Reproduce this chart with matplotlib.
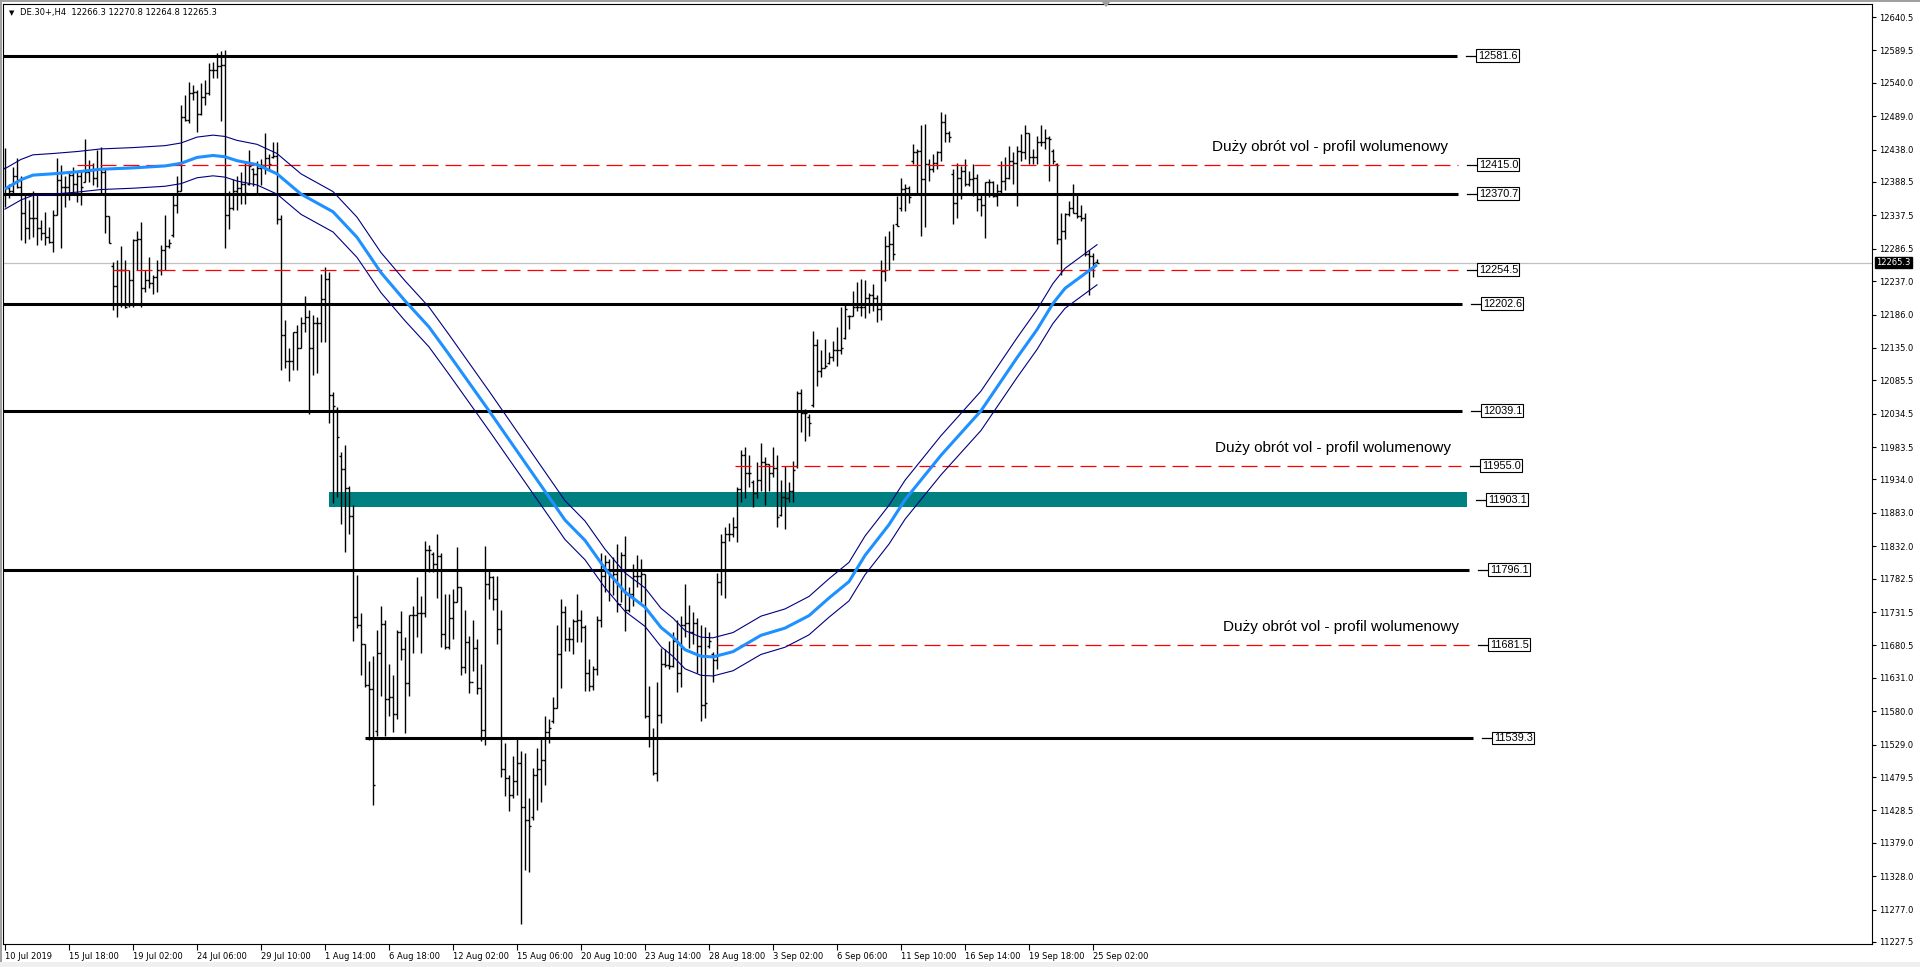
import numpy as np
import matplotlib
matplotlib.use('Agg')
import matplotlib.pyplot as plt
from matplotlib.patches import Rectangle, Polygon

# Notowania DE.30+ H4 (jedna swieca = jeden element)
OPEN = [12410, 12379, 12374, 12397, 12381, 12341, 12318, 12333, 12333, 12318,
        12310, 12305, 12297, 12338, 12392, 12381, 12381, 12399, 12386, 12397,
        12389, 12404, 12407, 12394, 12409, 12404, 12336, 12260, 12229, 12254,
        12254, 12200, 12239, 12300, 12302, 12226, 12239, 12234, 12244, 12254,
        12285, 12290, 12308, 12353, 12374, 12488, 12483, 12524, 12526, 12493,
        12519, 12524, 12560, 12560, 12565, 12567, 12338, 12348, 12374, 12380,
        12385, 12386, 12408, 12400, 12410, 12415, 12425, 12427, 12428, 12332,
        12154, 12115, 12115, 12160, 12135, 12173, 12183, 12135, 12173, 12173,
        12209, 12241, 12063, 12040, 11970, 11950, 11921, 11879, 11724, 11711,
        11682, 11620, 11614, 11550, 11669, 11714, 11598, 11601, 11575, 11701,
        11675, 11623, 11727, 11727, 11730, 11730, 11827, 11820, 11805, 11817,
        11698, 11678, 11723, 11747, 11770, 11647, 11685, 11624, 11677, 11616,
        11551, 11775, 11785, 11752, 11706, 11492, 11478, 11452, 11473, 11501,
        11433, 11414, 11418, 11483, 11492, 11506, 11548, 11565, 11585, 11668,
        11731, 11690, 11690, 11718, 11719, 11709, 11639, 11619, 11644, 11719,
        11787, 11808, 11787, 11790, 11744, 11818, 11734, 11759, 11787, 11787,
        11790, 11572, 11539, 11486, 11574, 11652, 11651, 11649, 11688, 11639,
        11712, 11715, 11701, 11715, 11679, 11590, 11680, 11668, 11658, 11778,
        11838, 11851, 11851, 11862, 11919, 11971, 11944, 11930, 11914, 11933,
        11960, 11957, 11944, 11952, 11880, 11908, 11906, 11917, 11955, 12066,
        12036, 12030, 12048, 12140, 12099, 12105, 12112, 12121, 12132, 12132,
        12150, 12184, 12184, 12197, 12197, 12197, 12211, 12216, 12211, 12194,
        12253, 12290, 12293, 12324, 12348, 12378, 12380, 12420, 12434, 12436,
        12393, 12416, 12408, 12418, 12435, 12480, 12464, 12400, 12357, 12395,
        12406, 12385, 12393, 12395, 12362, 12353, 12388, 12388, 12367, 12375,
        12390, 12395, 12421, 12418, 12436, 12434, 12464, 12426, 12426, 12449,
        12449, 12455, 12436, 12416, 12301, 12313, 12340, 12349, 12341, 12336,
        12334, 12278, 12275, 12266.3]
HIGH = [12440, 12386, 12412, 12425, 12397, 12371, 12361, 12374, 12371, 12330,
        12343, 12320, 12346, 12425, 12414, 12397, 12402, 12412, 12404, 12407,
        12454, 12422, 12417, 12437, 12442, 12409, 12336, 12267, 12269, 12290,
        12269, 12254, 12302, 12313, 12328, 12254, 12274, 12246, 12269, 12292,
        12338, 12302, 12369, 12397, 12506, 12521, 12542, 12537, 12529, 12539,
        12544, 12570, 12572, 12585, 12588, 12590, 12374, 12393, 12397, 12403,
        12417, 12438, 12410, 12420, 12424, 12464, 12432, 12450, 12450, 12338,
        12177, 12135, 12160, 12170, 12183, 12215, 12193, 12186, 12183, 12248,
        12259, 12251, 12067, 12044, 11976, 11986, 11924, 11895, 11788, 11730,
        11682, 11656, 11665, 11704, 11740, 11720, 11652, 11636, 11704, 11733,
        11694, 11727, 11740, 11785, 11756, 11840, 11834, 11824, 11850, 11821,
        11759, 11759, 11767, 11831, 11770, 11734, 11695, 11719, 11690, 11652,
        11832, 11795, 11787, 11787, 11735, 11532, 11483, 11511, 11537, 11519,
        11516, 11447, 11493, 11524, 11537, 11572, 11568, 11601, 11711, 11752,
        11741, 11709, 11721, 11759, 11734, 11711, 11660, 11649, 11726, 11821,
        11818, 11813, 11816, 11836, 11823, 11847, 11770, 11805, 11818, 11813,
        11790, 11619, 11555, 11624, 11677, 11675, 11688, 11701, 11720, 11726,
        11775, 11742, 11731, 11723, 11712, 11709, 11701, 11671, 11791, 11850,
        11862, 11867, 11876, 11923, 11979, 11983, 11971, 11933, 11960, 11990,
        11968, 11957, 11983, 11971, 11933, 11955, 11930, 11963, 12069, 12073,
        12042, 12034, 12161, 12148, 12132, 12148, 12129, 12145, 12167, 12197,
        12200, 12186, 12222, 12235, 12241, 12239, 12219, 12233, 12216, 12270,
        12306, 12313, 12324, 12367, 12395, 12385, 12382, 12447, 12439, 12475,
        12477, 12423, 12431, 12436, 12496, 12493, 12467, 12408, 12418, 12413,
        12423, 12406, 12416, 12400, 12372, 12388, 12393, 12390, 12385, 12421,
        12426, 12444, 12434, 12444, 12462, 12476, 12464, 12439, 12459, 12475,
        12470, 12459, 12439, 12418, 12341, 12341, 12359, 12385, 12370, 12354,
        12341, 12285, 12280, 12270.8]
LOW = [12351, 12364, 12371, 12379, 12300, 12295, 12302, 12305, 12292, 12300,
       12292, 12295, 12282, 12338, 12287, 12351, 12361, 12371, 12358, 12353,
       12389, 12389, 12384, 12381, 12371, 12310, 12295, 12193, 12183, 12198,
       12196, 12198, 12198, 12254, 12198, 12221, 12226, 12218, 12221, 12246,
       12254, 12287, 12305, 12341, 12374, 12481, 12478, 12514, 12465, 12491,
       12506, 12521, 12547, 12547, 12481, 12287, 12316, 12345, 12345, 12355,
       12355, 12384, 12382, 12372, 12384, 12400, 12405, 12425, 12325, 12102,
       12105, 12084, 12102, 12102, 12135, 12160, 12034, 12093, 12096, 12144,
       12144, 12021, 11898, 11908, 11866, 11824, 11850, 11688, 11707, 11636,
       11617, 11536, 11436, 11542, 11604, 11542, 11572, 11549, 11568, 11659,
       11546, 11604, 11669, 11694, 11669, 11724, 11792, 11792, 11753, 11678,
       11675, 11675, 11690, 11747, 11636, 11639, 11608, 11642, 11606, 11534,
       11529, 11752, 11734, 11683, 11480, 11450, 11427, 11447, 11452, 11255,
       11337, 11335, 11414, 11429, 11442, 11468, 11532, 11562, 11585, 11616,
       11672, 11672, 11667, 11685, 11685, 11611, 11611, 11613, 11636, 11708,
       11762, 11749, 11757, 11731, 11747, 11703, 11731, 11741, 11770, 11747,
       11570, 11526, 11483, 11473, 11562, 11647, 11644, 11647, 11609, 11617,
       11693, 11677, 11682, 11639, 11565, 11570, 11677, 11625, 11644, 11758,
       11753, 11840, 11846, 11838, 11900, 11906, 11922, 11892, 11906, 11917,
       11895, 11917, 11938, 11862, 11878, 11859, 11900, 11900, 11952, 12006,
       11993, 12001, 12045, 12077, 12091, 12105, 12110, 12115, 12107, 12126,
       12148, 12164, 12184, 12192, 12184, 12181, 12189, 12192, 12175, 12177,
       12237, 12254, 12270, 12321, 12344, 12344, 12357, 12416, 12372, 12306,
       12319, 12390, 12403, 12408, 12421, 12449, 12449, 12324, 12334, 12362,
       12382, 12382, 12367, 12344, 12336, 12303, 12365, 12365, 12352, 12370,
       12377, 12393, 12385, 12352, 12421, 12423, 12416, 12416, 12416, 12444,
       12439, 12390, 12416, 12293, 12247, 12301, 12336, 12341, 12334, 12329,
       12275, 12216, 12244, 12264.8]
CLOSE = [12379, 12374, 12397, 12381, 12341, 12318, 12333, 12333, 12318, 12310,
         12305, 12297, 12338, 12392, 12381, 12381, 12399, 12386, 12397, 12381,
         12404, 12407, 12394, 12409, 12404, 12336, 12295, 12229, 12254, 12254,
         12198, 12239, 12300, 12302, 12226, 12239, 12234, 12244, 12254, 12285,
         12290, 12295, 12353, 12374, 12488, 12483, 12524, 12526, 12493, 12519,
         12524, 12560, 12560, 12565, 12567, 12338, 12348, 12374, 12380, 12385,
         12371, 12413, 12400, 12410, 12415, 12425, 12416, 12428, 12332, 12154,
         12115, 12115, 12160, 12135, 12173, 12183, 12135, 12173, 12173, 12209,
         12241, 12063, 12047, 11999, 11950, 11921, 11879, 11724, 11711, 11682,
         11620, 11614, 11468, 11669, 11714, 11598, 11601, 11575, 11701, 11675,
         11623, 11727, 11727, 11730, 11730, 11827, 11827, 11805, 11817, 11698,
         11678, 11723, 11747, 11770, 11647, 11685, 11624, 11677, 11616, 11551,
         11775, 11785, 11752, 11706, 11492, 11478, 11452, 11473, 11501, 11433,
         11414, 11405, 11483, 11492, 11506, 11548, 11555, 11585, 11668, 11731,
         11690, 11690, 11718, 11719, 11709, 11639, 11619, 11644, 11719, 11787,
         11808, 11787, 11790, 11744, 11818, 11734, 11759, 11787, 11787, 11790,
         11572, 11539, 11486, 11574, 11652, 11651, 11649, 11688, 11639, 11712,
         11715, 11701, 11715, 11679, 11590, 11592, 11688, 11658, 11778, 11838,
         11851, 11851, 11862, 11919, 11971, 11944, 11944, 11914, 11933, 11960,
         11957, 11944, 11952, 11876, 11908, 11906, 11917, 11949, 12066, 12036,
         12036, 12020, 12140, 12099, 12105, 12107, 12121, 12132, 12132, 12135,
         12194, 12184, 12197, 12197, 12197, 12211, 12216, 12211, 12194, 12253,
         12290, 12293, 12278, 12322, 12378, 12380, 12365, 12434, 12436, 12393,
         12416, 12408, 12418, 12435, 12480, 12464, 12457, 12357, 12395, 12406,
         12385, 12393, 12395, 12362, 12353, 12388, 12388, 12367, 12375, 12390,
         12395, 12421, 12418, 12436, 12434, 12464, 12426, 12426, 12449, 12449,
         12455, 12454, 12421, 12301, 12313, 12340, 12349, 12341, 12336, 12334,
         12278, 12275, 12265, 12265.3]

# srednia kroczaca (odczyt w wybranych swiecach) + koperta
MA_BAR = [0, 4, 7, 12, 18, 24, 32, 40, 44, 48, 52, 55, 58, 63, 68, 74, 82, 88,
          94, 100, 106, 111, 121, 140, 145, 150, 155, 160, 164, 167, 170, 174,
          177, 182, 189, 195, 201, 206, 211, 215, 221, 225, 234, 244, 253, 258,
          262, 265, 269, 273]
MA_VAL = [12378, 12392, 12399, 12401, 12404, 12408, 12410, 12413, 12417, 12426,
          12429, 12427, 12421, 12415, 12401, 12370, 12343, 12304, 12250, 12207,
          12167, 12125, 12039, 11872, 11841, 11798, 11762, 11739, 11708, 11693,
          11674, 11664, 11663, 11671, 11696, 11707, 11726, 11753, 11778, 11818,
          11865, 11903, 11971, 12039, 12120, 12163, 12203, 12226, 12244, 12262]
ENVELOPE_PCT = 0.25

# poziomy
LEVEL_PRICES = [12581.6, 12415.0, 12370.7, 12254.5, 12202.6, 12039.1, 11955.0,
                11903.1, 11796.1, 11681.5, 11539.3]
LEVEL_KINDS = ['line', 'volume', 'line', 'dash', 'line', 'line', 'volume',
               'zone', 'line', 'volume', 'line']
VOLUME_NOTE = 'Duży obrót vol - profil wolumenowy'

LAST_PRICE = 12265.3
HEADER = 'DE.30+,H4  12266.3 12270.8 12264.8 12265.3'

YTICKS = [12640.5, 12589.5, 12540.0, 12489.0, 12438.0, 12388.5, 12337.5, 12286.5,
          12237.0, 12186.0, 12135.0, 12085.5, 12034.5, 11983.5, 11934.0, 11883.0,
          11832.0, 11782.5, 11731.5, 11680.5, 11631.0, 11580.0, 11529.0, 11479.5,
          11428.5, 11379.0, 11328.0, 11277.0, 11227.5]
XTICK_LABELS = ['10 Jul 2019', '15 Jul 18:00', '19 Jul 02:00', '24 Jul 06:00',
                '29 Jul 10:00', '1 Aug 14:00', '6 Aug 18:00', '12 Aug 02:00',
                '15 Aug 06:00', '20 Aug 10:00', '23 Aug 14:00', '28 Aug 18:00',
                '3 Sep 02:00', '6 Sep 06:00', '11 Sep 10:00', '16 Sep 14:00',
                '19 Sep 18:00', '25 Sep 02:00']
XTICK_STEP = 16

# uklad (w jednostkach swiec) - poczatek i koniec kazdej linii
LEVEL_SPAN = [(-0.5, 363), (18, 363.25), (-0.5, 363.25), (27, 363.25),
              (-0.5, 364.25), (-0.5, 364.25), (182.5, 364), (81, 365.5),
              (-0.5, 366), (178, 366), (90, 367)]
ZONE_HALF = 11.5

W, H = 1920, 967
AX_L, AX_R, AX_T, AX_B = 3, 1872, 4, 944

fig = plt.figure(figsize=(W / 100, H / 100), dpi=100)
ax = fig.add_axes([AX_L / W, (H - AX_B) / H, (AX_R - AX_L) / W, (AX_B - AX_T) / H])

x = np.arange(len(CLOSE))
ax.set_xlim(-0.5, (AX_R - 5) / 4)
ax.set_ylim(11224.4, 12660.4)

# swiece OHLC
ax.vlines(x, LOW, HIGH, color='black', lw=1.0, zorder=3)
ax.hlines(OPEN, x - 0.5, x, color='black', lw=1.0, zorder=3)
ax.hlines(CLOSE, x, x + 0.5, color='black', lw=1.0, zorder=3)

# srednia i koperta
ma = np.array(MA_VAL, dtype=float)
ax.plot(MA_BAR, ma, color='#1E90FF', lw=2.2, zorder=5, solid_capstyle='butt')
ax.plot(MA_BAR, ma * (1 + ENVELOPE_PCT / 100), color='#000080', lw=0.8, zorder=5)
ax.plot(MA_BAR, ma * (1 - ENVELOPE_PCT / 100), color='#000080', lw=0.8, zorder=5)

# linia ceny biezacej
ax.axhline(LAST_PRICE, color='#C0C0C0', lw=0.9, zorder=1)

for price, kind, (x0, x1) in zip(LEVEL_PRICES, LEVEL_KINDS, LEVEL_SPAN):
    if kind == 'line':
        ax.hlines(price, x0, x1, color='black', lw=2.2, zorder=4)
    elif kind == 'zone':
        ax.add_patch(Rectangle((x0, price - ZONE_HALF), x1 - x0, 2 * ZONE_HALF,
                               facecolor='#008080', edgecolor='none', zorder=2))
    else:
        ax.hlines(price, x0, x1, color='#FF0000', lw=0.9,
                  linestyles=(0, (12.8, 5.6)), zorder=4)
        if kind == 'volume':
            ax.annotate(VOLUME_NOTE, xy=(x1, price), xytext=(-10, 11),
                        textcoords='offset pixels', ha='right', va='bottom',
                        fontsize=11, family='Liberation Sans', color='black')
    # etykieta ceny z kreska
    ax.plot([x1 + 2.3, x1 + 4.8], [price, price], color='black', lw=0.9, zorder=4,
            clip_on=False)
    ax.text(x1 + 5.2, price, f'{price:.1f}', ha='left', va='center', fontsize=7.8,
            family='Liberation Sans', zorder=6,
            bbox=dict(boxstyle='square,pad=0.12', fc='white', ec='black', lw=0.8))

# osie
for s in ax.spines.values():
    s.set_linewidth(0.8)
    s.set_color('black')
ax.yaxis.tick_right()
ax.set_yticks(YTICKS)
ax.set_yticklabels([f'{v:.1f}' for v in YTICKS])
ax.tick_params(axis='y', length=3, width=0.8, pad=2, labelsize=6, direction='out')
xt = np.arange(len(XTICK_LABELS)) * XTICK_STEP
ax.set_xticks(xt)
ax.set_xticklabels(XTICK_LABELS)
ax.tick_params(axis='x', length=4, width=0.8, pad=1.5, labelsize=6, direction='out')
for lab in ax.get_xticklabels():
    lab.set_ha('left')

# etykieta ceny biezacej
ax.annotate(f'{LAST_PRICE:.1f}', xy=(1, LAST_PRICE), xycoords=('axes fraction', 'data'),
            xytext=(4, 0), textcoords='offset pixels', ha='left', va='center',
            fontsize=6, color='white', annotation_clip=False,
            bbox=dict(boxstyle='square,pad=0.15', fc='black', ec='black'))

# naglowek
fig.text(9 / W, 1 - 13 / H, '▼', fontsize=5, va='center', ha='left')
fig.text(20 / W, 1 - 13 / H, HEADER, fontsize=6, va='center', ha='left')

# znacznik przesuniecia wykresu
fig.patches.append(Polygon([[1101 / W, 1 - 1 / H], [1111 / W, 1 - 1 / H], [1106 / W, 1 - 7 / H]],
                           closed=True, transform=fig.transFigure, fc='#A0A0A0', ec='none'))
# ramka okna
fig.patches.append(Rectangle((0, 0), 2 / W, 1, transform=fig.transFigure, fc='#A0A0A0', ec='none'))
fig.patches.append(Rectangle((0, 1 - 2 / H), 1, 2 / H, transform=fig.transFigure, fc='#A0A0A0', ec='none'))
fig.patches.append(Rectangle((0, 0), 1, 5 / H, transform=fig.transFigure, fc='#F0F0F0', ec='none'))

fig.savefig('out.png', dpi=100)
